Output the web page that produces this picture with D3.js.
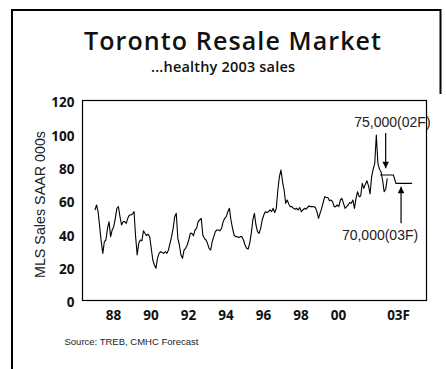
<!DOCTYPE html>
<html>
<head>
<meta charset="utf-8">
<script src="https://cdn.jsdelivr.net/npm/d3@7/dist/d3.min.js"></script>
<style>
  html, body { margin: 0; padding: 0; background: #fff; }
  svg { display: block; }
</style>
</head>
<body>
<script>
// Monthly MLS sales (SAAR, thousands), Jan 1987 onward
const salesStartYear = 1987;
const sales = [
  54, 57, 53, 44, 35, 28, 35, 36, 43, 47, 38, 42,
  44, 49, 55, 56, 50, 45, 47, 47, 46, 49, 51, 51,
  51.6, 53, 38, 27, 34, 36, 35.5, 41.5, 40, 38.6, 39.5, 38,
  31, 24, 21, 19, 25, 28, 29, 28.5, 28, 29, 28, 30,
  34, 38, 43, 50, 52, 37, 33, 27, 25, 30, 31, 33,
  36, 40, 40, 38.5, 42, 43, 47, 48, 49, 39, 37, 36,
  34, 31, 30, 35, 38, 41, 42, 42, 41.5, 43, 47, 49,
  50, 53, 55, 48, 43, 39, 38, 38, 37.5, 38, 38, 36,
  33, 31, 30.6, 34, 40, 48, 52, 45, 41, 40, 43, 48,
  51, 53, 52.5, 53, 54, 53, 55, 52.5, 55, 66, 74, 78,
  71, 66, 58, 60, 57.5, 56, 56, 55, 54.5, 55, 54, 55.5,
  53, 54, 55, 54.5, 55.5, 56.5, 56, 56, 56, 55.5, 53, 49,
  52, 55, 58.5, 62, 61.5, 61.5, 59.5, 60, 59, 56, 56, 57,
  56, 60, 61, 58, 55, 56, 57, 58.5, 58, 60, 55, 61,
  65, 62, 62.4, 70, 67, 69.5, 71.5, 68.5, 63.6, 74, 78.5, 82,
  99, 82, 78.5, 77, 72, 65, 66.5, 73
];

// Annual forecast levels (2002F, 2003F)
const forecastYears = [2002.25, 2002.95, 2003.09, 2003.95];
const forecastValues = [75, 75, 70, 70];

// Axis ticks
const yTicks = [0, 20, 40, 60, 80, 100, 120];
const xTickYears = [1988, 1990, 1992, 1994, 1996, 1998, 2000, 2003.2];
const xTickLabels = ["88", "90", "92", "94", "96", "98", "00", "03F"];

// Annotations: label, anchor year, value, arrow from/to values
const noteLabels = ["75,000(02F)", "70,000(03F)"];
const noteYears = [2002.9, 2002.24];
const noteValues = [104, 36];
const arrowYears = [2002.54, 2003.36];
const arrowFrom = [100.2, 46];
const arrowTo = [79, 68];

const W = 446, H = 369;
const plot = { left: 82, right: 426, top: 100, bottom: 300 };

const svg = d3.select("body").append("svg")
  .attr("width", W).attr("height", H)
  .attr("viewBox", `0 0 ${W} ${H}`);

svg.append("rect").attr("width", W).attr("height", H).attr("fill", "#fff");

// Outer frame: full left side, top edge, short right side
svg.append("path")
  .attr("d", `M12,${H} L12,10 L440.5,10 L440.5,94`)
  .attr("fill", "none").attr("stroke", "#000").attr("stroke-width", 2);

const x = d3.scaleLinear().domain([1986.35, 2004.69]).range([plot.left, plot.right]);
const y = d3.scaleLinear().domain([0, 120]).range([plot.bottom, plot.top]);

const boldFont = "'Open Sans', Lato, sans-serif";
const plainFont = "'Liberation Sans', Arial, sans-serif";

// Titles
svg.append("text")
  .attr("x", 232.5).attr("y", 49.5)
  .attr("text-anchor", "middle")
  .attr("font-family", boldFont).attr("font-weight", 600)
  .attr("font-size", 25).attr("fill", "#111")
  .attr("textLength", 297).attr("lengthAdjust", "spacing")
  .text("Toronto Resale Market");

svg.append("text")
  .attr("x", 223).attr("y", 71.5)
  .attr("text-anchor", "middle")
  .attr("font-family", boldFont).attr("font-weight", 600)
  .attr("font-size", 14.5).attr("fill", "#111")
  .attr("textLength", 144).attr("lengthAdjust", "spacing")
  .text("...healthy 2003 sales");

// Y axis
const yAxis = svg.append("g")
  .attr("transform", `translate(${plot.left},0)`)
  .call(d3.axisLeft(y).tickValues(yTicks).tickSize(0).tickPadding(7.5));
yAxis.select(".domain").remove();
yAxis.selectAll("text")
  .attr("font-family", boldFont).attr("font-weight", 700)
  .attr("font-size", 13.5).attr("fill", "#111")
  .attr("dy", "0.5em");

// X axis
const xAxis = svg.append("g")
  .attr("transform", `translate(0,${plot.bottom})`)
  .call(d3.axisBottom(x).tickValues(xTickYears)
    .tickFormat((d, i) => xTickLabels[i]).tickSize(0).tickPadding(10));
xAxis.select(".domain").remove();
xAxis.selectAll("text")
  .attr("font-family", boldFont).attr("font-weight", 700)
  .attr("font-size", 13.5).attr("fill", "#111");

// Y axis title
svg.append("text")
  .attr("transform", `translate(44.5,204.5) rotate(-90)`)
  .attr("text-anchor", "middle")
  .attr("font-family", plainFont).attr("font-size", 14.3).attr("fill", "#222")
  .text("MLS Sales SAAR 000s");

// Plot box
svg.append("rect")
  .attr("x", plot.left + 0.5).attr("y", plot.top + 0.5)
  .attr("width", plot.right - plot.left).attr("height", plot.bottom - plot.top)
  .attr("fill", "none").attr("stroke", "#000").attr("stroke-width", 1.2);

// Actual monthly sales
const line = d3.line()
  .x((d, i) => x(salesStartYear + (i + 0.5) / 12))
  .y(d => y(d));
svg.append("path")
  .datum(sales)
  .attr("d", line)
  .attr("fill", "none").attr("stroke", "#000")
  .attr("stroke-width", 1.1).attr("stroke-linejoin", "round");

// Forecast levels
const fLine = d3.line().x(d => x(d[0])).y(d => y(d[1]));
svg.append("path")
  .datum(forecastYears.map((yr, i) => [yr, forecastValues[i]]))
  .attr("d", fLine)
  .attr("fill", "none").attr("stroke", "#000").attr("stroke-width", 1.1);

// Arrows
const defs = svg.append("defs");
defs.append("marker")
  .attr("id", "arrowhead")
  .attr("viewBox", "0 0 10 10")
  .attr("refX", 10).attr("refY", 5)
  .attr("markerWidth", 8).attr("markerHeight", 6.5)
  .attr("markerUnits", "userSpaceOnUse")
  .attr("orient", "auto")
  .append("path").attr("d", "M0,0 L10,5 L0,10 Z").attr("fill", "#000");

arrowYears.forEach((yr, i) => {
  svg.append("line")
    .attr("x1", x(yr)).attr("x2", x(yr))
    .attr("y1", y(arrowFrom[i])).attr("y2", y(arrowTo[i]))
    .attr("stroke", "#000").attr("stroke-width", 1.2)
    .attr("marker-end", "url(#arrowhead)");
});

// Annotation labels
noteLabels.forEach((t, i) => {
  svg.append("text")
    .attr("x", x(noteYears[i])).attr("y", y(noteValues[i]))
    .attr("text-anchor", "middle")
    .attr("font-family", plainFont).attr("font-size", 14).attr("fill", "#222")
    .text(t);
});

// Source
svg.append("text")
  .attr("x", 64.5).attr("y", 345)
  .attr("font-family", plainFont).attr("font-size", 9.5).attr("fill", "#222")
  .text("Source: TREB, CMHC Forecast");
</script>
</body>
</html>
